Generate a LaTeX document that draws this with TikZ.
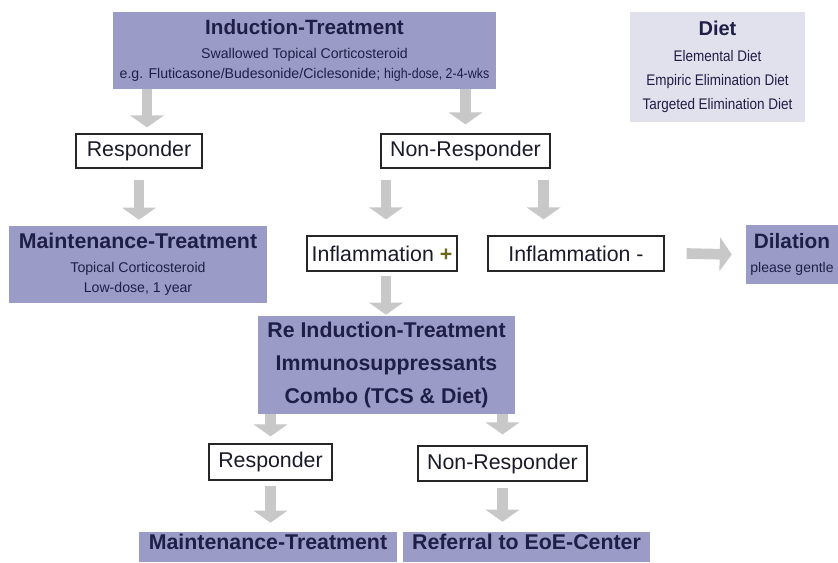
\documentclass[tikz,border=0pt]{standalone}
\usepackage{fontspec}
\setmainfont{Liberation Sans}
\newfontfamily\narrowfont[FakeStretch=0.88]{Liberation Sans}
\usepackage{tikz}
\usetikzlibrary{
	arrows.meta,
	calc,
	positioning
}
\definecolor{boxPurple}{HTML}{9B9BC8}
\definecolor{boxLight}{HTML}{E1E1EE}
\definecolor{textNavy}{HTML}{1E1E46}
\definecolor{textDark}{HTML}{1A1A2A}
\definecolor{arrowGray}{HTML}{C8C8C8}
\definecolor{plusOlive}{HTML}{6B6A1C}
\tikzset{
	treat/.style={fill=boxPurple,text=textNavy,align=center,inner sep=0pt},
	dietbox/.style={fill=boxLight,text=textNavy,align=center,inner sep=0pt},
	result/.style={draw=black!85,line width=0.9pt,fill=white,text=textDark,inner sep=0pt,font=\fontsize{16}{19}\selectfont},
	flow/.style={draw=arrowGray,line width=8pt,-{Triangle[width=25pt,length=9pt]}}
}
\newcommand{\boxTitle}[1]{{\normalfont\bfseries\fontsize{15.5}{18}\selectfont #1}}

\begin{document}
\begin{tikzpicture}[x=0.75pt,y=-0.75pt]
					\useasboundingbox (0,0) rectangle (838,562);
					
					% first line
					\node (ind) at (304.5,50.5) [treat,minimum width=287.25pt,minimum height=57.75pt,font=\fontsize{10.6}{15}\selectfont]
						{\boxTitle{Induction-Treatment}\\[2.6pt]
						Swallowed Topical Corticosteroid\\
						e.g. Fluticasone/Budesonide/Ciclesonide; {\narrowfont high-dose, 2-4-wks}};
					\node (diet) at (717.5,67) [dietbox,minimum width=131.25pt,minimum height=82.5pt,font=\narrowfont\fontsize{11.5}{18}\selectfont]
						{{\normalfont\bfseries\fontsize{15}{18}\selectfont Diet}\\[2pt]
						Elemental Diet\\ Empiric Elimination Diet\\ Targeted Elimination Diet};
					
					\node (resp) at (139,151) [result,minimum width=94.5pt,minimum height=25.5pt] {Responder};
					\node (nonresp) at (465.5,151) [result,minimum width=126.75pt,minimum height=25.5pt] {Non-Responder};
					
					% second line
					\node (maint) at (138,264.5) [treat,minimum width=193.5pt,minimum height=57.75pt,font=\fontsize{10.6}{15}\selectfont]
						{{\bfseries\fontsize{16}{18}\selectfont Maintenance-Treatment}\\[3pt]
						Topical Corticosteroid\\ Low-dose, 1 year};
					\node (inflp) at (382,253.5) [result,minimum width=112.5pt,minimum height=26.25pt] {Inflammation {\bfseries\color{plusOlive}+}};
					\node (inflm) at (576,253.5) [result,minimum width=132pt,minimum height=26.25pt] {Inflammation -};
					\node (dil) at (792,254.5) [treat,minimum width=69pt,minimum height=44.25pt,font=\fontsize{10.5}{18}\selectfont]
						{{\bfseries\fontsize{15.6}{18}\selectfont Dilation}\\ please gentle};
					
					\node (reind) at (386.5,365) [treat,minimum width=192.75pt,minimum height=73.5pt,font=\bfseries\fontsize{16}{24.4}\selectfont]
						{Re Induction-Treatment\\ Immunosuppressants\\ Combo (TCS \& Diet)};
					
					% third line
					\node (resp2) at (270.5,462) [result,minimum width=92.25pt,minimum height=27pt] {Responder};
					\node (nonresp2) at (502.5,463.5) [result,minimum width=126.75pt,minimum height=26.25pt] {Non-Responder};
					
					\node (maint2) at (268,547) [treat,minimum width=193.5pt,minimum height=22.5pt,text depth=8pt,font=\bfseries\fontsize{16}{19}\selectfont] {Maintenance-Treatment};
					\node (ref) at (526.5,547) [treat,minimum width=185.25pt,minimum height=22.5pt,text depth=8pt,font=\bfseries\fontsize{16}{19}\selectfont] {Referral to EoE-Center};
					
					% arrows
					\draw[flow] ($(resp.north |- ind.south)+(8,0)$) -- ($(resp.north)+(8,-6)$);
					\draw[flow] (nonresp.north |- ind.south) -- ($(nonresp.north)+(0,-9)$);
					\draw[flow] ($(resp.south)+(0,11)$) -- ($(resp.south |- maint.north)+(0,-6)$);
					\draw[flow] ($(nonresp.south -| inflp.north)+(4,11)$) -- ($(inflp.north)+(4,-16)$);
					\draw[flow] ($(nonresp.south east)+(-7,11)$) -- ($(nonresp.south east |- inflm.north)+(-7,-16)$);
					\draw[flow] ($(inflm.east)+(22,0)$) -- ($(dil.west)+(-14,0)$);
					\draw[flow] ($(inflp.south)+(4,4)$) -- ($(inflp.south |- reind.north)+(4,-1)$);
					\draw[flow] (reind.south -| resp2.north) -- ($(resp2.north)+(0,-7)$);
					\draw[flow] (reind.south -| nonresp2.north) -- ($(nonresp2.north)+(0,-11)$);
					\draw[flow] ($(resp2.south)+(0,5)$) -- ($(resp2.south |- maint2.north)+(0,-9)$);
					\draw[flow] ($(nonresp2.south)+(0,6)$) -- ($(nonresp2.south |- ref.north)+(0,-10)$);
				\end{tikzpicture}
\end{document}
